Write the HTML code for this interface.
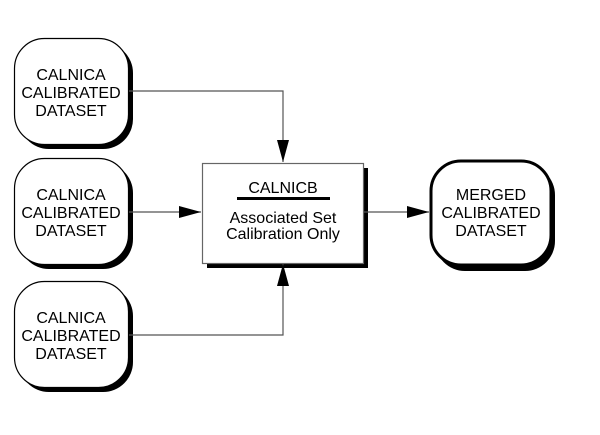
<!DOCTYPE html>
<html><head><style>body{margin:0;background:#fff}svg text{font-family:"Liberation Sans",sans-serif;font-size:16px;fill:#000;text-anchor:middle}</style></head><body>
<svg width="600" height="430" viewBox="0 0 600 430">
<defs>
<marker id="b" viewBox="0 0 22 12" markerWidth="22" markerHeight="12" refX="22" refY="6" orient="auto" markerUnits="userSpaceOnUse"><path d="M0,0 L22,6 L0,12z" fill="#000"/></marker></defs>
<g fill="#000">
<rect x="19" y="43" width="114" height="106" rx="30"/>
<rect x="19" y="163" width="114" height="106" rx="30"/>
<rect x="19" y="286" width="114" height="106" rx="30"/>
<rect x="207" y="168" width="161" height="100"/>
</g>
<g fill="#fff" stroke="#000" stroke-width="1.2">
<rect x="14.5" y="38.5" width="114" height="106" rx="30"/>
<rect x="14.5" y="158.5" width="114" height="106" rx="30"/>
<rect x="14.5" y="281.5" width="114" height="106" rx="30"/>
<rect x="202.5" y="163.5" width="161" height="100" stroke="#666"/>
</g>
<rect x="435" y="165" width="120" height="106" rx="30" fill="#000"/>
<rect x="431" y="161" width="120" height="104" rx="30" fill="#fff" stroke="#000" stroke-width="3"/>
<g stroke="#555" stroke-width="1.2" fill="none">
<path d="M129 91 H283 V162" marker-end="url(#b)"/>
<path d="M129 212 H201" marker-end="url(#b)"/>
<path d="M129 335 H283 V264" marker-end="url(#b)"/>
<path d="M364 212 H429" marker-end="url(#b)"/>
</g>
<text x="71" y="80">CALNICA</text><text x="71" y="98">CALIBRATED</text><text x="71" y="116">DATASET</text>
<text x="71" y="200">CALNICA</text><text x="71" y="218">CALIBRATED</text><text x="71" y="236">DATASET</text>
<text x="71" y="323">CALNICA</text><text x="71" y="341">CALIBRATED</text><text x="71" y="359">DATASET</text>
<text x="283" y="193">CALNICB</text>
<rect x="237" y="197" width="93" height="3" fill="#000"/>
<text x="283" y="223">Associated Set</text><text x="283" y="239">Calibration Only</text>
<text x="491" y="200">MERGED</text><text x="491" y="218">CALIBRATED</text><text x="491" y="236">DATASET</text>
</svg></body></html>
